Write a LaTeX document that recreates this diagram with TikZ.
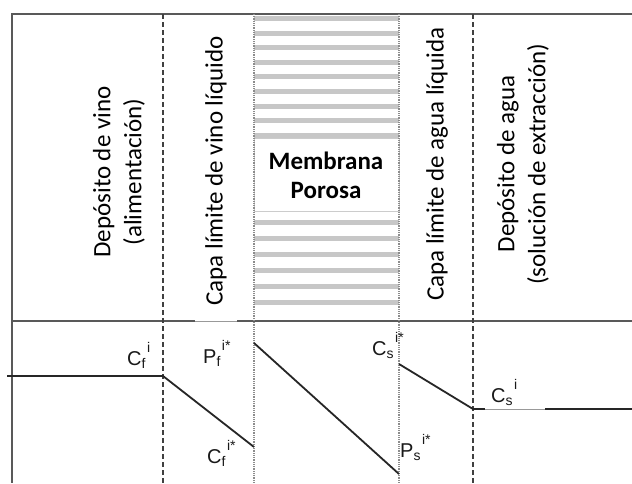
\documentclass[tikz,border=0pt]{standalone}
\usepackage{fontspec}
\setmainfont{Carlito}
\newfontfamily\lblfont{Liberation Sans}
% concentration label: symbol, subscript, superscript
\newcommand{\conc}[3]{#1\raisebox{-3pt}{\fontsize{14}{14}\selectfont #2}\hspace{1.5pt}\raisebox{13pt}{\fontsize{14}{14}\selectfont #3}}
\begin{document}
\begin{tikzpicture}[x=1pt,y=-1pt,
  frame/.style={line width=1.5pt, black!65},
  thinpart/.style={line width=0.8pt, black!40},
  bound/.style={line width=1.8pt, black!75, dash pattern=on 5pt off 3pt},
  memedge/.style={line width=1.6pt, black!45, dash pattern=on 1pt off 0.8pt},
  stripe/.style={fill=black!22},
  zone/.style={rotate=90, align=center, inner sep=0pt, text=black,
    font=\fontsize{25}{31}\selectfont},
  profile/.style={line width=1.8pt, black!85},
  lbl/.style={inner sep=0pt, anchor=base west, text=black!90,
    font=\lblfont\fontsize{20}{20}\selectfont}]
\useasboundingbox (0,0) rectangle (632,483);
\fill[white] (0,0) rectangle (632,483);

% membrane: grey stripes with a white label band
\foreach \k in {0,...,8}
  \fill[stripe] (254,16+14.6*\k) rectangle (399,21+14.6*\k);
\foreach \k in {0,...,5}
  \fill[stripe] (254,220+16*\k) rectangle (399,225+16*\k);
\filldraw[fill=white, draw=black!20, line width=0.6pt] (254,138) rectangle (399,211);

% frame and zone boundaries
\draw[frame] (632,14) -- (12,14) -- (12,483);
\draw[frame] (12,321) -- (632,321);
\fill[white] (195,318.5) rectangle (237,323.5);
\draw[thinpart] (195,321) -- (237,321);
\draw[bound] (163,14) -- (163,483);
\draw[bound] (473,14) -- (473,483);
\draw[memedge] (254,14) -- (254,483);
\draw[memedge] (399,14) -- (399,483);

% zone titles
\node[zone] (feed) at (119,172) {Depósito de vino\\(alimentación)};
\node[zone] (blf) at (216,171) {Capa límite de vino líquido};
\node[align=center, inner sep=0pt, text=black,
  font=\fontsize{25}{29}\selectfont\bfseries] (mem) at (326,175) {Membrana\\Porosa};
\node[zone] (bls) at (437,164) {Capa límite de agua líquida};
\node[zone] (strip) at (523,164) {Depósito de agua\\(solución de extracción)};

% concentration profile
\coordinate (f0) at (7,376);
\coordinate (f1) at (163,376);
\coordinate (f2) at (254,447);
\coordinate (m1) at (254,343);
\coordinate (m2) at (399,474);
\coordinate (s1) at (399,364);
\coordinate (s2) at (473,409);
\coordinate (s3) at (632,409);
\draw[profile] (f0) -- (f1) -- (f2);
\draw[profile] (m1) -- (m2);
\draw[profile] (s1) -- (s2) -- (s3);
\fill[white] (485,406) rectangle (545,412);
\draw[thinpart] (485,409) -- (545,409);

% profile labels
\node[lbl] (cfi) at (127,365) {\conc{C}{f}{i}};
\node[lbl] (pfi) at (203,363) {\conc{P}{f}{i*}};
\node[lbl] (cfs) at (207,463) {\conc{C}{f}{i*}};
\node[lbl] (csi) at (372,355) {\conc{C}{s}{i*}};
\node[lbl] (psi) at (400,457) {\conc{P}{s}{i*}};
\node[lbl] (cs) at (491,402) {\conc{C}{s}{i}};
\end{tikzpicture}
\end{document}
